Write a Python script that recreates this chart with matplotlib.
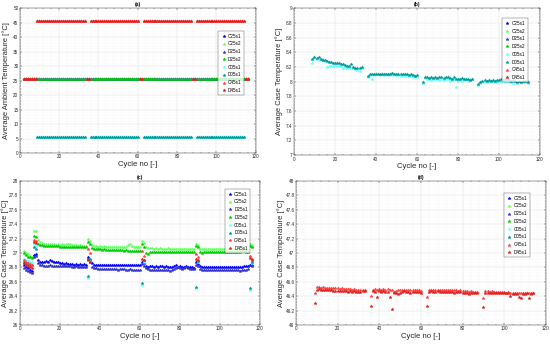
import numpy as np
import matplotlib
matplotlib.use('Agg')
import matplotlib.pyplot as plt
from matplotlib.ticker import MultipleLocator, AutoMinorLocator, FormatStrFormatter

plt.rcParams['font.family'] = ['Liberation Sans', 'DejaVu Sans']

# cycles 2..116, split into phases: 25C (7), cold/hot (25), 25C (2), ...
cycles = np.arange(2, 117)
seg_len = [7, 25, 2, 25, 2, 25, 2, 25, 2]

series_names = ['C25s1', 'C25s2', 'D25s1', 'D25s2', 'C05s1', 'D05s1', 'C45s1', 'D45s1']
series_colors = ['#0000ff', '#66ff66', '#3333cc', '#00cc00', '#66ffff', '#009999', '#ff4040', '#e02020']

# ambient temperature level per phase
amb25_levels = [25.7, 25.7, 25.7, 25.7, 25.7, 25.7, 25.7, 25.7, 25.7]
amb05_levels = [25.7, 5.5, 25.7, 5.5, 25.7, 5.5, 25.7, 5.5, 25.7]
amb45_levels = [25.7, 45.5, 25.7, 45.5, 25.7, 45.5, 25.7, 45.5, 25.7]

# average case temperature per cycle
case_C25s1 = [
    26.83, 26.81, 26.79, 26.77, 26.75, 26.97, 26.98,
    26.90, 26.88, 26.87, 26.88, 26.89, 26.88, 26.90, 26.89, 26.88, 26.87, 26.87, 26.86, 26.86,
    26.85, 26.86, 26.85, 26.85, 26.85, 26.84, 26.85, 26.84, 26.85, 26.84, 26.85, 26.84,
    26.95, 26.90,
    26.86, 26.84, 26.84, 26.83, 26.84, 26.84, 26.83, 26.84, 26.83, 26.84, 26.84, 26.83, 26.84,
    26.84, 26.83, 26.84, 26.83, 26.84, 26.84, 26.83, 26.84, 26.83, 26.84, 26.84, 26.84,
    26.87, 26.86,
    26.82, 26.81, 26.82, 26.82, 26.81, 26.82, 26.81, 26.82, 26.82, 26.81, 26.82, 26.81, 26.80,
    26.81, 26.82, 26.83, 26.81, 26.82, 26.80, 26.81, 26.82, 26.80, 26.81, 26.80, 26.79,
    26.87, 26.85,
    26.82, 26.81, 26.81, 26.80, 26.81, 26.81, 26.80, 26.81, 26.80, 26.81, 26.80, 26.81, 26.80,
    26.80, 26.81, 26.80, 26.80, 26.81, 26.80, 26.81, 26.80, 26.81, 26.82, 26.82, 26.82,
    26.84, 26.84]
case_D25s1 = [
    26.79, 26.77, 26.75, 26.73, 26.72, 26.95, 26.96,
    26.86, 26.84, 26.83, 26.82, 26.82, 26.82, 26.83, 26.82, 26.82, 26.82, 26.82, 26.82, 26.82,
    26.82, 26.82, 26.82, 26.82, 26.81, 26.81, 26.82, 26.81, 26.81, 26.81, 26.81, 26.81,
    26.92, 26.88,
    26.80, 26.79, 26.79, 26.78, 26.78, 26.78, 26.78, 26.78, 26.78, 26.78, 26.78, 26.78, 26.78,
    26.77, 26.78, 26.78, 26.78, 26.77, 26.77, 26.78, 26.77, 26.77, 26.77, 26.77, 26.77,
    26.85, 26.82,
    26.79, 26.78, 26.77, 26.77, 26.77, 26.77, 26.76, 26.77, 26.76, 26.76, 26.77, 26.76, 26.75,
    26.77, 26.78, 26.79, 26.80, 26.79, 26.78, 26.79, 26.80, 26.79, 26.78, 26.78, 26.78,
    26.84, 26.82,
    26.78, 26.77, 26.77, 26.77, 26.76, 26.77, 26.76, 26.76, 26.77, 26.76, 26.76, 26.76, 26.76,
    26.76, 26.77, 26.76, 26.76, 26.77, 26.76, 26.76, 26.75, 26.76, 26.76, 26.77, 26.78,
    26.83, 26.82]
case_C25s2 = [
    27.03, 27.00, 26.98, 26.96, 26.95, 27.30, 27.30,
    27.18, 27.15, 27.14, 27.13, 27.12, 27.12, 27.13, 27.12, 27.12, 27.11, 27.12, 27.11, 27.12,
    27.11, 27.13, 27.12, 27.12, 27.11, 27.11, 27.11, 27.10, 27.11, 27.10, 27.10, 27.10,
    27.19, 27.16,
    27.11, 27.10, 27.10, 27.09, 27.10, 27.09, 27.10, 27.09, 27.09, 27.09, 27.08, 27.09, 27.08,
    27.08, 27.09, 27.08, 27.08, 27.09, 27.11, 27.13, 27.10, 27.08, 27.08, 27.08, 27.08,
    27.17, 27.14,
    27.08, 27.07, 27.07, 27.07, 27.06, 27.07, 27.06, 27.07, 27.06, 27.06, 27.06, 27.07, 27.06,
    27.06, 27.06, 27.06, 27.06, 27.06, 27.06, 27.06, 27.06, 27.06, 27.06, 27.05, 27.06,
    27.12, 27.11,
    27.06, 27.05, 27.05, 27.06, 27.05, 27.05, 27.05, 27.05, 27.05, 27.05, 27.05, 27.05, 27.05,
    27.04, 27.05, 27.04, 27.05, 27.05, 27.06, 27.05, 27.04, 27.04, 27.05, 27.04, 27.04,
    27.13, 27.11]
case_D25s2 = [
    27.00, 26.97, 26.95, 26.94, 26.93, 27.24, 27.22,
    27.12, 27.11, 27.11, 27.10, 27.10, 27.10, 27.10, 27.10, 27.10, 27.10, 27.10, 27.09, 27.09,
    27.09, 27.09, 27.09, 27.09, 27.09, 27.09, 27.09, 27.09, 27.08, 27.08, 27.08, 27.08,
    27.15, 27.13,
    27.07, 27.06, 27.05, 27.05, 27.05, 27.04, 27.05, 27.04, 27.04, 27.04, 27.04, 27.04, 27.04,
    27.04, 27.04, 27.04, 27.03, 27.04, 27.03, 27.03, 27.03, 27.03, 27.03, 27.03, 27.03,
    27.12, 27.08,
    27.00, 26.98, 27.02, 27.02, 27.02, 27.02, 27.02, 27.02, 27.02, 27.01, 27.02, 27.02, 27.01,
    27.02, 27.02, 27.02, 27.02, 27.02, 27.02, 27.02, 27.02, 27.02, 27.02, 27.02, 27.02,
    27.10, 27.08,
    27.02, 27.00, 27.01, 27.01, 27.01, 27.01, 27.01, 27.01, 27.01, 27.01, 27.01, 27.01, 27.02,
    27.02, 27.02, 27.02, 27.02, 27.02, 27.02, 27.02, 27.02, 27.03, 27.03, 27.02, 27.02,
    27.10, 27.09]
case_C05s1 = [
    26.92, 26.90, 26.89, 26.88, 26.87, 27.12, 27.10,
    8.26, 8.33, 8.31, 8.30, 8.30, 8.29, 8.28, 8.20, 8.21, 8.22, 8.22, 8.23, 8.22,
    8.22, 8.21, 8.19, 8.20, 8.19, 8.20, 8.18, 8.18, 8.17, 8.16, 8.15, 8.18,
    26.65, 26.90,
    8.07, 8.09, 8.04, 8.09, 8.10, 8.10, 8.09, 8.10, 8.09, 8.10, 8.09, 8.10, 8.09,
    8.10, 8.09, 8.09, 8.08, 8.09, 8.08, 8.09, 8.08, 8.08, 8.07, 8.08, 8.07,
    26.56, 26.88,
    7.98, 8.05, 8.03, 8.04, 8.02, 8.04, 8.03, 8.04, 8.02, 8.03, 8.02, 8.04, 8.03,
    8.01, 8.02, 8.03, 7.93, 8.01, 8.02, 8.01, 8.02, 8.03, 8.01, 8.02, 8.03,
    26.51, 26.87,
    7.95, 7.98, 7.99, 8.00, 7.99, 8.00, 8.01, 8.00, 7.99, 8.00, 8.01, 8.00, 8.02,
    8.00, 8.01, 7.99, 8.00, 7.98, 7.99, 7.98, 7.99, 8.00, 7.99, 8.00, 7.98,
    26.49, 26.86]
case_D05s1 = [
    26.88, 26.86, 26.85, 26.84, 26.83, 27.08, 27.06,
    8.31, 8.34, 8.32, 8.33, 8.31, 8.30, 8.29, 8.28, 8.27, 8.27, 8.26, 8.26, 8.25,
    8.25, 8.24, 8.24, 8.23, 8.22, 8.21, 8.24, 8.20, 8.19, 8.18, 8.19, 8.20,
    26.68, 26.92,
    8.08, 8.10, 8.11, 8.11, 8.11, 8.10, 8.11, 8.11, 8.10, 8.11, 8.10, 8.11, 8.12,
    8.11, 8.10, 8.10, 8.10, 8.11, 8.10, 8.10, 8.09, 8.10, 8.09, 8.08, 8.09,
    26.58, 26.90,
    7.99, 8.07, 8.06, 8.05, 8.07, 8.05, 8.06, 8.05, 8.07, 8.06, 8.05, 8.06, 8.07,
    8.05, 8.04, 8.06, 8.04, 8.03, 8.04, 8.05, 8.04, 8.03, 8.04, 8.02, 8.03,
    26.53, 26.89,
    7.97, 8.00, 8.01, 8.02, 8.01, 8.02, 8.01, 8.02, 8.01, 8.02, 8.02, 8.03, 8.02,
    8.04, 8.03, 8.02, 8.01, 8.02, 8.01, 8.00, 8.01, 8.00, 8.01, 8.01, 8.00,
    26.51, 26.87]
case_C45s1 = [
    26.90, 26.88, 26.86, 26.85, 26.84, 27.18, 27.16,
    46.44, 46.53, 46.53, 46.52, 46.53, 46.52, 46.52, 46.51, 46.52, 46.51, 46.51, 46.51, 46.50,
    46.51, 46.50, 46.50, 46.50, 46.50, 46.49, 46.50, 46.49, 46.49, 46.49, 46.48, 46.49,
    27.05, 27.00,
    46.40, 46.49, 46.50, 46.49, 46.50, 46.49, 46.50, 46.49, 46.50, 46.49, 46.48, 46.45, 46.47,
    46.49, 46.48, 46.49, 46.48, 46.49, 46.48, 46.49, 46.48, 46.48, 46.48, 46.48, 46.47,
    27.03, 26.96,
    46.39, 46.48, 46.49, 46.48, 46.48, 46.49, 46.48, 46.48, 46.49, 46.48, 46.48, 46.48, 46.49,
    46.48, 46.48, 46.47, 46.48, 46.47, 46.47, 46.47, 46.46, 46.47, 46.46, 46.46, 46.46,
    26.98, 26.94,
    46.37, 46.47, 46.47, 46.46, 46.47, 46.46, 46.46, 46.46, 46.46, 46.46, 46.46, 46.45, 46.46,
    46.45, 46.45, 46.44, 46.45, 46.45, 46.44, 46.45, 46.45, 46.45, 46.44, 46.45, 46.45,
    26.96, 26.92]
case_D45s1 = [
    26.86, 26.84, 26.82, 26.80, 26.79, 27.15, 27.14,
    46.31, 46.49, 46.50, 46.49, 46.49, 46.48, 46.48, 46.48, 46.48, 46.47, 46.47, 46.47, 46.47,
    46.47, 46.47, 46.47, 46.46, 46.47, 46.46, 46.47, 46.46, 46.46, 46.46, 46.47, 46.47,
    26.90, 26.88,
    46.27, 46.47, 46.46, 46.39, 46.47, 46.46, 46.47, 46.46, 46.46, 46.39, 46.23, 46.46, 46.44,
    46.43, 46.45, 46.46, 46.47, 46.46, 46.46, 46.45, 46.46, 46.46, 46.46, 46.46, 46.45,
    26.92, 26.90,
    46.26, 46.46, 46.47, 46.46, 46.46, 46.47, 46.46, 46.46, 46.46, 46.46, 46.46, 46.46, 46.46,
    46.45, 46.46, 46.46, 46.46, 46.45, 46.45, 46.44, 46.43, 46.44, 46.44, 46.44, 46.44,
    26.92, 26.90,
    46.25, 46.44, 46.44, 46.45, 46.44, 46.44, 46.44, 46.44, 46.44, 46.44, 46.44, 46.44, 46.44,
    46.40, 46.43, 46.43, 46.43, 46.39, 46.38, 46.43, 46.43, 46.44, 46.38, 46.43, 46.44,
    26.93, 26.90]

amb25 = np.repeat(amb25_levels, seg_len)
amb05 = np.repeat(amb05_levels, seg_len)
amb45 = np.repeat(amb45_levels, seg_len)
ambient = [amb25, amb25, amb25, amb25, amb05, amb05, amb45, amb45]
case = [case_C25s1, case_C25s2, case_D25s1, case_D25s2,
        case_C05s1, case_D05s1, case_C45s1, case_D45s1]

fig = plt.figure(figsize=(5.5, 3.44), dpi=100)
fig.patch.set_facecolor('white')

# panel positions in figure fractions
pos = {
    'a': [0.036, 0.555, 0.429, 0.4215],
    'b': [0.5345, 0.549, 0.447, 0.427],
    'c': [0.036, 0.055, 0.436, 0.419],
    'd': [0.538, 0.055, 0.4545, 0.419],
}
legend_anchor = {'a': (0.96, 0.855), 'b': (0.96, 0.946), 'c': (0.97, 0.958), 'd': (0.944, 0.93)}
ylabel_x = {'a': -0.041, 'b': -0.044, 'c': -0.045, 'd': -0.044}


def style_axis(ax, key, ylim, ystep, ylabel):
    ax.set_xlim(0, 120)
    ax.set_ylim(*ylim)
    ax.xaxis.set_major_locator(MultipleLocator(20))
    ax.yaxis.set_major_locator(MultipleLocator(ystep))
    ax.xaxis.set_minor_locator(AutoMinorLocator(5))
    ax.yaxis.set_minor_locator(AutoMinorLocator(5))
    ax.yaxis.set_major_formatter(FormatStrFormatter('%g'))
    ax.tick_params(which='both', direction='in', top=True, right=True,
                   labelsize=3.3, length=1.5, width=0.3, pad=1.0, colors='#262626')
    ax.tick_params(which='minor', length=0.8)
    ax.grid(True, which='major', color='#d9d9d9', linewidth=0.3)
    ax.grid(True, which='minor', color='#ececec', linewidth=0.25, linestyle=':')
    for sp in ax.spines.values():
        sp.set_linewidth(0.3)
        sp.set_color('#262626')
    ax.set_xlabel('Cycle no [-]', fontsize=5.6, labelpad=1, color='#262626')
    ax.set_ylabel(ylabel, fontsize=5.4, color='#262626')
    ax.yaxis.set_label_coords(ylabel_x[key], 0.5)
    ax.set_title('(' + key + ')', fontsize=3.6, fontweight='bold', pad=1.5)
    leg = ax.legend(loc='upper right', bbox_to_anchor=legend_anchor[key], fontsize=3.3,
                    frameon=True, fancybox=False, edgecolor='#262626', borderpad=0.5,
                    labelspacing=0.6, handletextpad=0.4, handlelength=1.2, markerscale=1.0)
    leg.get_frame().set_linewidth(0.3)


def draw(ax, ydata):
    for name, col, y in zip(series_names, series_colors, ydata):
        y = np.asarray(y, dtype=float)
        assert len(y) == len(cycles)
        ax.plot(cycles, y, linestyle='none', marker='*', markersize=2.3,
                markeredgewidth=0.3, color=col, label=name)


ax_a = fig.add_axes(pos['a'])
draw(ax_a, ambient)
style_axis(ax_a, 'a', (0, 50), 5, 'Average Ambient Temperature [°C]')

ax_b = fig.add_axes(pos['b'])
draw(ax_b, case)
style_axis(ax_b, 'b', (7, 9), 0.2, 'Average Case Temperature [°C]')

ax_c = fig.add_axes(pos['c'])
draw(ax_c, case)
style_axis(ax_c, 'c', (26, 28), 0.2, 'Average Case Temperature [°C]')

ax_d = fig.add_axes(pos['d'])
draw(ax_d, case)
style_axis(ax_d, 'd', (46, 48), 0.2, 'Average Case Temperature [°C]')

plt.savefig('out.png', dpi=100)
